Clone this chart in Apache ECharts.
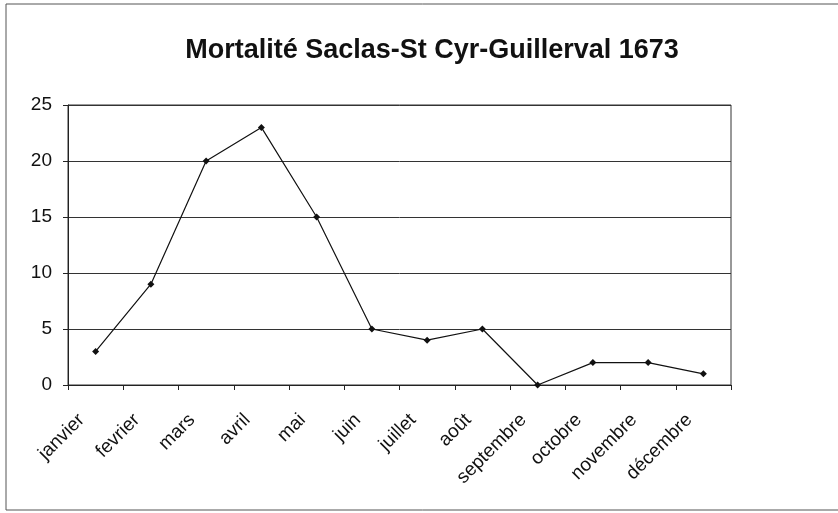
<!DOCTYPE html>
<html>
<head>
<meta charset="utf-8">
<script src="https://cdn.jsdelivr.net/npm/echarts@6/dist/echarts.min.js"></script>
<style>
    html, body { margin: 0; padding: 0; background: #fff; }
    #chart { width: 838px; height: 513px; }
</style>
</head>
<body>
<div id="chart"></div>
<script>
    // data
    const months = ['janvier', 'fevrier', 'mars', 'avril', 'mai', 'juin', 'juillet', 'août', 'septembre', 'octobre', 'novembre', 'décembre']
    const deaths = [3, 9, 20, 23, 15, 5, 4, 5, 0, 2, 2, 1]
    const yTicks = [0, 5, 10, 15, 20, 25]

    const myChart = echarts.init(document.getElementById('chart'))
    const option = {
        backgroundColor: '#fff',
        animation: false,
        title: {
            text: 'Mortalité Saclas-St Cyr-Guillerval 1673',
            left: 427,
            top: 32,
            textAlign: 'center',
            textStyle: {
                fontFamily: 'Liberation Sans',
                fontSize: 27,
                fontWeight: 'bold',
                color: '#111'
            }
        },
        graphic: [
            {
                type: 'rect',
                shape: { x: 6, y: 4, width: 840, height: 506 },
                style: { fill: 'none', stroke: '#555', lineWidth: 1 }
            }
        ],
        grid: {
            left: 68,
            right: 107,
            top: 105,
            bottom: 128,
            show: true,
            borderColor: '#333',
            borderWidth: 1
        },
        xAxis: {
            type: 'category',
            data: months,
            boundaryGap: true,
            axisLine: { lineStyle: { color: '#222' } },
            axisTick: { show: true, length: 5, lineStyle: { color: '#222' } },
            axisLabel: {
                rotate: 45,
                margin: 18,
                padding: [0, 20, 0, 0],
                color: '#111',
                fontFamily: 'Liberation Sans',
                fontSize: 19
            }
        },
        yAxis: {
            type: 'value',
            min: yTicks[0],
            max: yTicks[yTicks.length - 1],
            interval: yTicks[1] - yTicks[0],
            axisLine: { show: true, lineStyle: { color: '#222' } },
            axisTick: { show: true, length: 5, lineStyle: { color: '#222' } },
            axisLabel: {
                margin: 16,
                color: '#111',
                fontFamily: 'Liberation Sans',
                fontSize: 19
            },
            splitLine: { lineStyle: { color: '#333', width: 1 } }
        },
        series: [
            {
                type: 'line',
                data: deaths,
                symbol: 'diamond',
                symbolSize: 7,
                lineStyle: { color: '#111', width: 1.2 },
                itemStyle: { color: '#111' }
            }
        ]
    }
    myChart.setOption(option)
</script>
</body>
</html>
